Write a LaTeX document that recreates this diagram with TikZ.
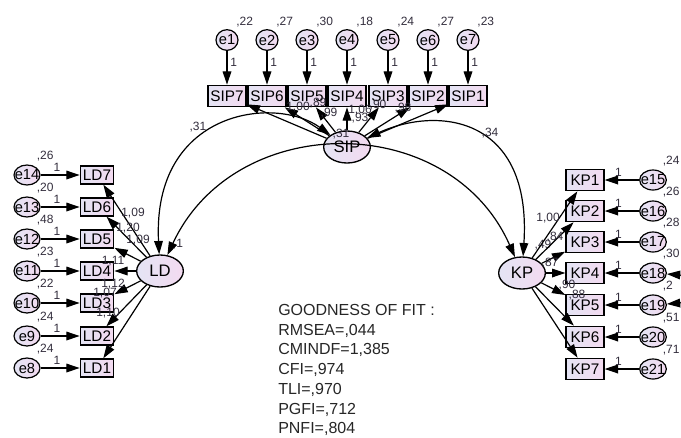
\documentclass[tikz,border=0pt]{standalone}
\usepackage{fontspec}
\setmainfont{Liberation Sans}
\usetikzlibrary{shapes.geometric,arrows.meta}
\definecolor{fillleft}{RGB}{228,228,244}
\definecolor{fillright}{RGB}{243,218,240}
\definecolor{numtext}{RGB}{50,45,60}
\tikzstyle{obs}=[draw=black,line width=1pt,left color=fillleft,right color=fillright,inner sep=0pt,minimum width=25pt,minimum height=13.5pt,font=\fontsize{11.5}{13}\selectfont]
\tikzstyle{obsbig}=[obs,minimum width=28.5pt,minimum height=16pt]
\tikzstyle{err}=[ellipse,draw=black,line width=0.9pt,left color=fillleft,right color=fillright,inner xsep=-2.6pt,inner ysep=0pt,minimum width=19.5pt,minimum height=15pt,font=\fontsize{11}{12}\selectfont]
\tikzstyle{errtop}=[err,minimum width=16.5pt,minimum height=15.5pt]
\tikzstyle{lat}=[ellipse,draw=black,line width=1pt,left color=fillleft,right color=fillright,inner sep=0pt,minimum width=35pt,minimum height=24pt,font=\fontsize{12.5}{14}\selectfont]
\tikzstyle{lbl}=[font=\fontsize{9}{10}\selectfont,text=numtext,inner sep=0pt]
\tikzstyle{var}=[lbl,label distance=5.5pt,xshift=-3pt]
\tikzstyle{reg}=[-{Triangle[length=10pt,width=6.5pt]},line width=0.9pt]
\tikzstyle{cov}=[{Triangle[length=10pt,width=6.5pt]}-{Triangle[length=10pt,width=6.5pt]},line width=0.9pt]
\tikzstyle{gof}=[inner sep=0pt,align=left,anchor=north west,text=black!85,font=\fontsize{12}{14.8}\selectfont]

\begin{document}
\begin{tikzpicture}[x=0.75pt,y=-0.75pt]
  \useasboundingbox (0,0) rectangle (681,437);
  \clip (0,0) rectangle (681,437);

  \node[errtop,label={[var]above right:,22}] (e1) at (227,40) {e1};
  \node[errtop,label={[var]above right:,27}] (e2) at (267,40) {e2};
  \node[errtop,label={[var]above right:,30}] (e3) at (307,40) {e3};
  \node[errtop,label={[var]above right:,18}] (e4) at (347,40) {e4};
  \node[errtop,label={[var]above right:,24}] (e5) at (388,40) {e5};
  \node[errtop,label={[var]above right:,27}] (e6) at (428,40) {e6};
  \node[errtop,label={[var]above right:,23}] (e7) at (468,40) {e7};

  \node[obsbig] (SIP7) at (227,96) {SIP7};
  \node[obsbig] (SIP6) at (267,96) {SIP6};
  \node[obsbig] (SIP5) at (307,96) {SIP5};
  \node[obsbig] (SIP4) at (347,96) {SIP4};
  \node[obsbig] (SIP3) at (388,96) {SIP3};
  \node[obsbig] (SIP2) at (428,96) {SIP2};
  \node[obsbig] (SIP1) at (468,96) {SIP1};

  \node[lat] (SIP) at (347,147) {SIP};
  \node[lat] (LD) at (160,271) {LD};
  \node[lat] (KP) at (522,273) {KP};

  \node[err,label={[var]above right:,26}] (e14) at (27,175) {e14};
  \node[err,label={[var]above right:,20}] (e13) at (27,207) {e13};
  \node[err,label={[var]above right:,48}] (e12) at (27,239) {e12};
  \node[err,label={[var]above right:,23}] (e11) at (27,271) {e11};
  \node[err,label={[var]above right:,22}] (e10) at (27,303) {e10};
  \node[err,label={[var]above right:,24}] (e9) at (27,336) {e9};
  \node[err,label={[var]above right:,24}] (e8) at (27,368) {e8};

  \node[obs] (LD7) at (97,175) {LD7};
  \node[obs] (LD6) at (97,207) {LD6};
  \node[obs] (LD5) at (97,239) {LD5};
  \node[obs] (LD4) at (97,271) {LD4};
  \node[obs] (LD3) at (97,303) {LD3};
  \node[obs] (LD2) at (97,336) {LD2};
  \node[obs] (LD1) at (97,368) {LD1};

  \node[obsbig] (KP1) at (585,180) {KP1};
  \node[obsbig] (KP2) at (585,211) {KP2};
  \node[obsbig] (KP3) at (585,242) {KP3};
  \node[obsbig] (KP4) at (585,273) {KP4};
  \node[obsbig] (KP5) at (585,305) {KP5};
  \node[obsbig] (KP6) at (585,337) {KP6};
  \node[obsbig] (KP7) at (585,369) {KP7};

  \node[err,minimum width=20pt,label={[var]above right:,24}] (e15) at (653,180) {e15};
  \node[err,minimum width=20pt,label={[var]above right:,26}] (e16) at (653,211) {e16};
  \node[err,minimum width=20pt,label={[var]above right:,28}] (e17) at (653,242) {e17};
  \node[err,minimum width=20pt,label={[var]above right:,30}] (e18) at (653,273) {e18};
  \node[err,minimum width=20pt,label={[var]above right:,2}] (e19) at (653,305) {e19};
  \node[err,minimum width=20pt,label={[var]above right:,51}] (e20) at (653,337) {e20};
  \node[err,minimum width=20pt,label={[var]above right:,71}] (e21) at (653,369) {e21};

  \node[lbl] (vLD) at (178,244) {,1};
  \node[lbl] (vKP) at (543,245) {,49};

  \draw[reg] (e1) -- node[lbl,right=2pt,pos=0.33] {1} (SIP7);
  \draw[reg] (e2) -- node[lbl,right=2pt,pos=0.33] {1} (SIP6);
  \draw[reg] (e3) -- node[lbl,right=2pt,pos=0.33] {1} (SIP5);
  \draw[reg] (e4) -- node[lbl,right=2pt,pos=0.33] {1} (SIP4);
  \draw[reg] (e5) -- node[lbl,right=2pt,pos=0.33] {1} (SIP3);
  \draw[reg] (e6) -- node[lbl,right=2pt,pos=0.33] {1} (SIP2);
  \draw[reg] (e7) -- node[lbl,right=2pt,pos=0.33] {1} (SIP1);

  \draw[reg] (e14) -- node[lbl,above=2pt,pos=0.42] {1} (LD7);
  \draw[reg] (e13) -- node[lbl,above=2pt,pos=0.42] {1} (LD6);
  \draw[reg] (e12) -- node[lbl,above=2pt,pos=0.42] {1} (LD5);
  \draw[reg] (e11) -- node[lbl,above=2pt,pos=0.42] {1} (LD4);
  \draw[reg] (e10) -- node[lbl,above=2pt,pos=0.42] {1} (LD3);
  \draw[reg] (e9) -- node[lbl,above=2pt,pos=0.42] {1} (LD2);
  \draw[reg] (e8) -- node[lbl,above=2pt,pos=0.42] {1} (LD1);

  \draw[reg] (e15) -- node[lbl,above=2pt,pos=0.6] {1} (KP1);
  \draw[reg] (e16) -- node[lbl,above=2pt,pos=0.6] {1} (KP2);
  \draw[reg] (e17) -- node[lbl,above=2pt,pos=0.6] {1} (KP3);
  \draw[reg] (e18) -- node[lbl,above=2pt,pos=0.6] {1} (KP4);
  \draw[reg] (e19) -- node[lbl,above=2pt,pos=0.6] {1} (KP5);
  \draw[reg] (e20) -- node[lbl,above=2pt,pos=0.6] {1} (KP6);
  \draw[reg] (e21) -- node[lbl,above=2pt,pos=0.6] {1} (KP7);

  \draw[reg] (SIP) -- (SIP7);
  \draw[reg] (SIP) -- (SIP6);
  \draw[reg] (SIP) -- (SIP5);
  \draw[reg] (SIP) -- (SIP4);
  \draw[reg] (SIP) -- (SIP3);
  \draw[reg] (SIP) -- (SIP2);
  \draw[reg] (SIP) -- (SIP1);

  \draw[reg] (LD) -- (LD7);
  \draw[reg] (LD) -- (LD6);
  \draw[reg] (LD) -- (LD5);
  \draw[reg] (LD) -- (LD4);
  \draw[reg] (LD) -- (LD3);
  \draw[reg] (LD) -- (LD2);
  \draw[reg] (LD) -- (LD1);

  \draw[reg] (KP) -- (KP1);
  \draw[reg] (KP) -- (KP2);
  \draw[reg] (KP) -- (KP3);
  \draw[reg] (KP) -- (KP4);
  \draw[reg] (KP) -- (KP5);
  \draw[reg] (KP) -- (KP6);
  \draw[reg] (KP) -- (KP7);

  \draw[cov] (SIP) .. controls (275,95) and (152,110) .. (LD);
  \draw[cov] (SIP) .. controls (440,105) and (532,118) .. (KP);
  \draw[cov] (LD) .. controls (235,110) and (450,110) .. (KP);
  \draw[cov] (e18) .. controls (694,276) and (694,302) .. (e19);

  \node[lbl] (cSL) at (198,127) {,31};
  \node[lbl] (cSK) at (490,133) {,34};
  \node[lbl] (cLK) at (341,134) {,31};

  \node[lbl] (lS7) at (298,107) {1,00};
  \node[lbl] (lS6) at (318,103) {,89};
  \node[lbl] (lS5) at (329,113) {,99};
  \node[lbl] (lS4) at (360,110) {1,06};
  \node[lbl] (lS3) at (360,118) {,93};
  \node[lbl] (lS2) at (378,105) {,90};
  \node[lbl] (lS1) at (403,108) {,98};

  \node[lbl] (lL7) at (133,213) {1,09};
  \node[lbl] (lL6) at (128,228) {1,20};
  \node[lbl] (lL5) at (138,240) {1,09};
  \node[lbl] (lL4) at (113,261) {1,11};
  \node[lbl] (lL3) at (113,284) {1,12};
  \node[lbl] (lL2) at (105,293) {1,07};
  \node[lbl] (lL1) at (108,313) {1,10};

  \node[lbl] (lK1) at (548,218) {1,00};
  \node[lbl] (lK2) at (555,237) {,84};
  \node[lbl] (lK4) at (550,263) {,87};
  \node[lbl] (lK5) at (567,285) {,90};
  \node[lbl] (lK6) at (577,295) {,88};

  \node[gof] (fit) at (278,304) {GOODNESS OF FIT :\\RMSEA=,044\\CMINDF=1,385\\CFI=,974\\TLI=,970\\PGFI=,712\\PNFI=,804};
\end{tikzpicture}
\end{document}
